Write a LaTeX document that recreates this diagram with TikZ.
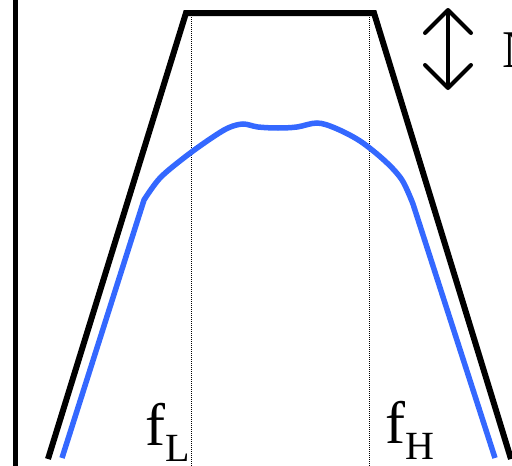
\documentclass[tikz,border=0pt]{standalone}
\usepackage{fontspec}
\setmainfont{Liberation Serif}
\usetikzlibrary{arrows.meta}
\definecolor{respblue}{RGB}{52,104,255}
\newcommand{\lowsub}[1]{\raisebox{-16pt}{\fontsize{40}{40}\selectfont #1}}

\begin{document}
\begin{tikzpicture}[x=1pt,y=-1pt,
	trap/.style={line width=6pt},
	resp/.style={respblue,line width=5.5pt},
	guide/.style={line width=1pt,dash pattern=on 1pt off 1pt},
	barb/.style={line width=4pt,line cap=round,
		{Straight Barb[length=23pt,width=46pt,line cap=round,line join=round]}-{Straight Barb[length=23pt,width=46pt,line cap=round,line join=round]}},
	lbl/.style={anchor=base west,inner sep=0pt,font=\fontsize{60}{60}\selectfont}]
	\useasboundingbox (0,0) rectangle (512,466);
	\draw[line width=4.5pt] (15.5,0) -- (15.5,466);
	\draw[guide] (191,17) -- (191,466);
	\draw[guide] (369,17) -- (369,466);
	\draw[trap] (48,459) -- (186,13) -- (374,13) -- (511,459);
	\draw[resp] (62,458) -- plot[smooth,tension=0.55] coordinates {(144,200) (160,178) (185,157) (210,139) (228,128) (243,124) (258,127) (278,128) (297,127) (317,123) (335,128) (360,141) (385,161) (402,180) (413,204)} -- (495,458);
	\coordinate (atop) at (448,8);
	\coordinate (abot) at (448,90);
	\draw[barb] (atop) -- (abot);
	\node[lbl,font=\fontsize{53}{53}\selectfont] (nlab) at (502,67) {N};
	\node[lbl] (fL) at (145,445) {f\lowsub{L}};
	\node[lbl] (fH) at (385,443) {f\lowsub{H}};
\end{tikzpicture}
\end{document}
